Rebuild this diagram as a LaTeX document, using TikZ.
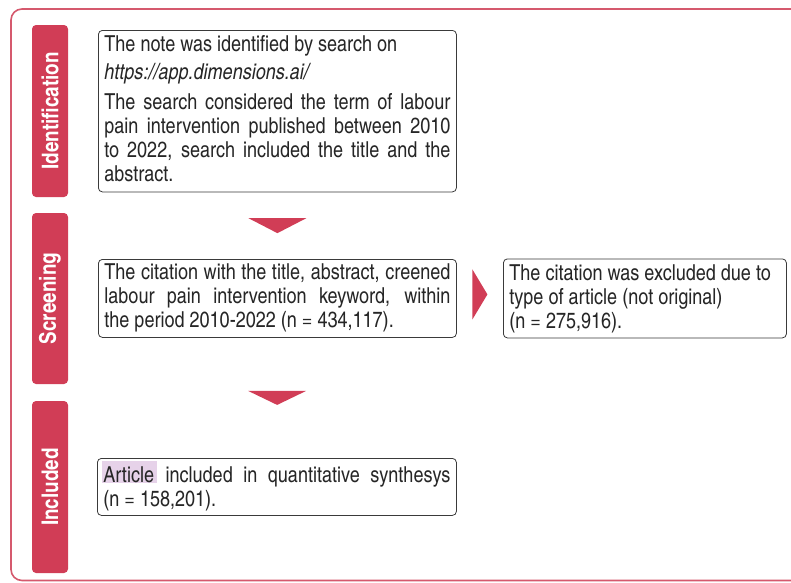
\documentclass[tikz,border=0pt]{standalone}
\usepackage{fontspec}
\setmainfont{texgyreheroscn}[Extension=.otf, UprightFont=*-regular, BoldFont=*-bold, ItalicFont=*-italic, BoldItalicFont=*-bolditalic]
\usetikzlibrary{calc}
\definecolor{crim}{HTML}{D13D56}
\definecolor{framered}{HTML}{D5596D}
\definecolor{boxline}{HTML}{3A3A3A}
\definecolor{hlcol}{HTML}{E6D2E9}
\definecolor{txt}{HTML}{262626}
\newcommand\tstrut[1]{\rule{0pt}{#1}}
\newcommand\bstrut[1]{\rule[-#1]{0pt}{#1}}
\setlength\fboxsep{0pt}
\begin{document}
\begin{tikzpicture}[x=1pt,y=-1pt,
  stage/.style={fill=crim, rounded corners=4pt, rotate=90, minimum height=36pt,
    inner sep=0pt, text=white, font=\bfseries\fontsize{23}{26}\selectfont},
  box/.style={draw=boxline, line width=0.8pt, rounded corners=4pt, inner xsep=6pt,
    inner ysep=0pt, anchor=north west, text=txt, font=\fontsize{22}{24}\selectfont},
  tri/.style={fill=crim}]
\useasboundingbox (0,0) rectangle (791,582);
\clip (0,0) rectangle (791,582);
\draw[framered, line width=1.6pt, rounded corners=11pt] (11,9) rectangle (830,580.5);

\node[stage, minimum width=172pt] (s1) at (50,111) {Identification};
\node[stage, minimum width=171pt] (s2) at (50,298.5) {Screening};
\node[stage, minimum width=172pt] (s3) at (50,487) {Included};

\node[box, text width=346pt, align=justify] (b1) at (98,30)
  {\tstrut{21.5pt}The note was identified by search on\par\vspace{4pt}
   \textit{https://app.dimensions.ai/}\par\vspace{6pt}
   The search considered the term of labour\linebreak
   pain intervention published between 2010\linebreak
   to 2022, search included the title and the\linebreak
   abstract.\bstrut{10pt}};

\node[box, text width=346pt, align=justify] (b2) at (98,259)
  {\tstrut{20pt}The citation with the title, abstract, creened\linebreak
   labour pain intervention keyword, within\linebreak
   the period 2010-2022 (n = 434,117).\bstrut{10pt}};

\node[box, text width=271pt, align=justify] (b3) at (503,258.5)
  {\tstrut{21.5pt}\mbox{The citation was excluded due to}\newline
   \mbox{type of article (not original)}\newline
   (n = 275,916).\bstrut{9.5pt}};

\node[box, text width=347pt, align=justify] (b4) at (97,458)
  {\tstrut{24pt}\hspace{-1.5pt}\colorbox{hlcol}{\hspace{1.5pt}\rule[-1pt]{0pt}{22.5pt}Article\hspace{3pt}}\hspace{-2pt} included in quantitative synthesys\linebreak
   (n = 158,201).\bstrut{9pt}};

\coordinate (a1) at ($(b1.south)!0.5!(b2.north)$);
\coordinate (a2) at ($(b2.south)!0.5!(b4.north)$);
\coordinate (a3) at ($(b2.east)!0.5!(b3.west)+(0,-4)$);
\fill[tri] ($(a1)+(-29,-7.5)$) -- ($(a1)+(29,-7.5)$) -- ($(a1)+(0,7.5)$) -- cycle;
\fill[tri] ($(a2)+(-29,-7)$) -- ($(a2)+(29,-7)$) -- ($(a2)+(0,7)$) -- cycle;
\fill[tri] ($(a3)+(-7.5,-25)$) -- ($(a3)+(-7.5,25)$) -- ($(a3)+(7.5,0)$) -- cycle;
\end{tikzpicture}
\end{document}
